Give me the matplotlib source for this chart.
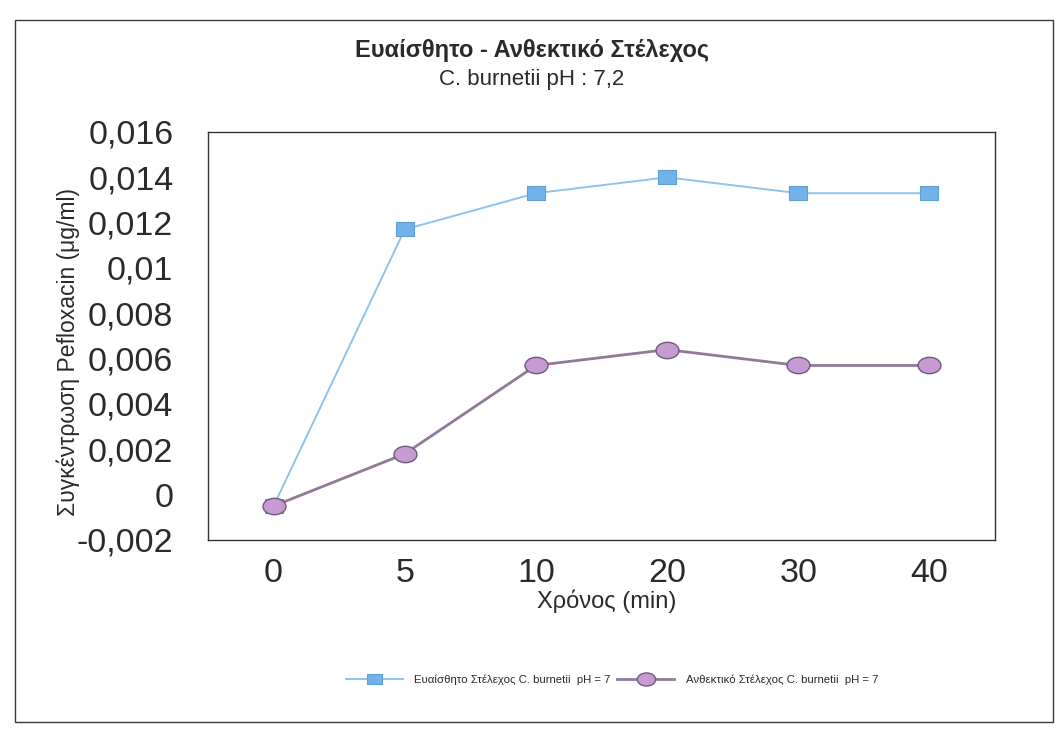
import matplotlib
matplotlib.use("Agg")
import matplotlib.pyplot as plt
import matplotlib.patches as mpatches
from matplotlib.path import Path
from matplotlib.transforms import Affine2D

plt.rcParams['font.family'] = ['Liberation Sans', 'DejaVu Sans']

# Sampling times (min) and measured Pefloxacin concentration (μg/ml)
times = ["0", "5", "10", "20", "30", "40"]
sensitive = [-0.0005, 0.0117, 0.0133, 0.0140, 0.0133, 0.0133]
resistant = [-0.0005, 0.0018, 0.0057, 0.0064, 0.0057, 0.0057]

y_ticks = [-0.002, 0.0, 0.002, 0.004, 0.006, 0.008, 0.010, 0.012, 0.014, 0.016]
y_tick_labels = ["-0,002", "0", "0,002", "0,004", "0,006", "0,008",
                 "0,01", "0,012", "0,014", "0,016"]

title = "Ευαίσθητο - Ανθεκτικό Στέλεχος"
subtitle = "C. burnetii pH : 7,2"
x_label = "Χρόνος (min)"
y_label = "Συγκέντρωση Pefloxacin (μg/ml)"
label_sensitive = "Ευαίσθητο Στέλεχος C. burnetii  pH = 7"
label_resistant = "Ανθεκτικό Στέλεχος C. burnetii  pH = 7"

W, H = 1057, 731
fig = plt.figure(figsize=(W / 100, H / 100), dpi=100)

# outer chart frame
fig.patches.append(mpatches.Rectangle((15 / W, 1 - 722 / H), (1053 - 15) / W, (722 - 20) / H,
                                      transform=fig.transFigure, fill=False,
                                      edgecolor="#3a3a3a", linewidth=1.0))

left, right, top, bottom = 208, 995, 132, 540
ax = fig.add_axes([left / W, 1 - bottom / H, (right - left) / W, (bottom - top) / H])

# slightly wide markers: flattened square and ellipse
wide_square = Path([(-1, -1), (1, -1), (1, 1), (-1, 1), (-1, -1)],
                   [Path.MOVETO, Path.LINETO, Path.LINETO, Path.LINETO, Path.CLOSEPOLY])
wide_square = wide_square.transformed(Affine2D().scale(1.4, 1.0))
wide_ellipse = Path.unit_circle().transformed(Affine2D().scale(1.4, 1.0))

x = list(range(len(times)))
ax.plot(x, sensitive, color="#8ec3ee", linewidth=1.4,
        marker=wide_square, markersize=13.5, markerfacecolor="#72b2e8",
        markeredgecolor="#5e9fd8", markeredgewidth=0.8, label=label_sensitive, zorder=3)
ax.plot(x, resistant, color="#8f7a98", linewidth=2.0,
        marker=wide_ellipse, markersize=16.5, markerfacecolor="#c79ad3",
        markeredgecolor="#6f5a7c", markeredgewidth=1.0, label=label_resistant, zorder=4)

ax.set_xlim(-0.5, len(times) - 0.5)
ax.set_ylim(-0.002, 0.016)
ax.set_xticks(x)
ax.set_xticklabels(times)
ax.set_yticks(y_ticks)
ax.set_yticklabels(y_tick_labels)
ax.tick_params(axis="both", length=0, labelsize=24.5, labelcolor="#2a2a2a")
ax.tick_params(axis="x", pad=13)
ax.tick_params(axis="y", pad=25)
for s in ax.spines.values():
    s.set_color("#333333")
    s.set_linewidth(1.0)

ax.set_xlabel(x_label, fontsize=17, color="#2a2a2a", va="center")
ax.xaxis.set_label_coords((607 - left) / (right - left), (bottom - 601) / (bottom - top))
ax.set_ylabel(y_label, fontsize=16.5, color="#2a2a2a", va="center")
ax.yaxis.set_label_coords((68 - left) / (right - left), (bottom - 352) / (bottom - top))

fig.text(532 / W, 1 - 50 / H, title, ha="center", va="center",
         fontsize=17, fontweight="bold", color="#2a2a2a")
fig.text(532 / W, 1 - 79 / H, subtitle, ha="center", va="center",
         fontsize=16, color="#2a2a2a")

leg = fig.legend(loc="center", bbox_to_anchor=(612 / W, 1 - 680 / H), ncol=2,
                 frameon=False, fontsize=8.2, handlelength=5.0, handletextpad=1.0,
                 columnspacing=0.6, markerscale=0.8)
for t in leg.get_texts():
    t.set_color("#2a2a2a")

fig.savefig("out.png", dpi=100)
